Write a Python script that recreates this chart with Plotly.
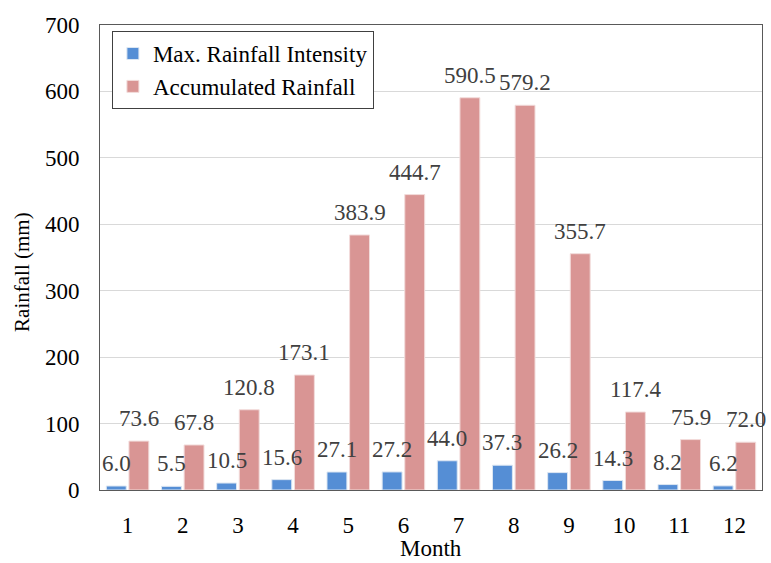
import plotly.graph_objects as go

months = [str(m) for m in range(1, 13)]
max_intensity = [6.0, 5.5, 10.5, 15.6, 27.1, 27.2, 44.0, 37.3, 26.2, 14.3, 8.2, 6.2]
accumulated = [73.6, 67.8, 120.8, 173.1, 383.9, 444.7, 590.5, 579.2, 355.7, 117.4, 75.9, 72.0]

FONT = "Liberation Serif"
LABEL_COLOR = "#404040"

fig = go.Figure()
fig.add_trace(go.Bar(
    x=months, y=max_intensity, name="Max. Rainfall Intensity",
    marker=dict(color="#558ED5", line=dict(color="#DCE6F2", width=1)),
))
fig.add_trace(go.Bar(
    x=months, y=accumulated, name="Accumulated Rainfall",
    marker=dict(color="#D99594", line=dict(color="#F2DCDB", width=1)),
))

# value labels, anchored at each bar's data point (category index on x)
annotations = []
for series, shift in ((max_intensity, -11.3), (accumulated, 11.3)):
    for i, v in enumerate(series):
        annotations.append(dict(
            x=i, y=v, xref="x", yref="y", text=f"{v:.1f}",
            showarrow=False, xanchor="center", yanchor="bottom",
            xshift=shift, yshift=8,
            font=dict(family=FONT, size=23, color=LABEL_COLOR),
        ))

# axis titles
annotations.append(dict(
    x=0, y=0.469, xref="paper", yref="paper", text="Rainfall (mm)",
    textangle=-90, showarrow=False, xanchor="center", yanchor="middle",
    xshift=-78, font=dict(family=FONT, size=21, color="#000000"),
))
annotations.append(dict(
    x=0.5, y=0, xref="paper", yref="paper", text="Month",
    showarrow=False, xanchor="center", yanchor="middle",
    yshift=-58, font=dict(family=FONT, size=23, color="#000000"),
))

fig.update_layout(
    width=771, height=563,
    margin=dict(l=100, r=9, t=25, b=73),
    paper_bgcolor="white", plot_bgcolor="white",
    barmode="group", bargap=0.18, bargroupgap=0.12,
    font=dict(family=FONT, size=23, color="#000000"),
    showlegend=True,
    legend=dict(
        x=0.018, y=0.987, xanchor="left", yanchor="top",
        bgcolor="white", bordercolor="#404040", borderwidth=1,
        font=dict(family=FONT, size=23, color="#000000"),
        itemwidth=30, tracegroupgap=0,
    ),
    annotations=annotations,
    xaxis=dict(
        type="category", automargin=False,
        range=[-0.5, len(months) - 0.5],
        showline=True, linecolor="#595959", linewidth=1, mirror=True,
        ticks="", ticklabelstandoff=14,
        tickfont=dict(family=FONT, size=23),
    ),
    yaxis=dict(
        range=[0, 700], dtick=100, automargin=False,
        showline=True, linecolor="#595959", linewidth=1, mirror=True,
        showgrid=True, gridcolor="#D9D9D9", gridwidth=1,
        zeroline=False, ticks="", ticklabelstandoff=15,
        tickfont=dict(family=FONT, size=23),
    ),
)

fig.write_html("out.html")
